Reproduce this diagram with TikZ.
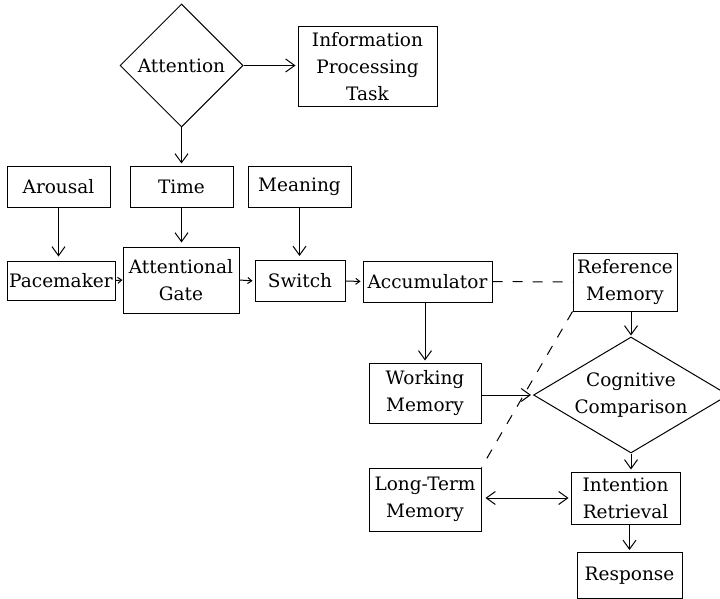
\documentclass[tikz,border=0pt]{standalone}
\usepackage{fontspec}
\setmainfont{DejaVu Serif}
\usetikzlibrary{arrows.meta,shapes.geometric}

\begin{document}
\begin{tikzpicture}[x=1pt,y=-1pt,line width=1pt,
  box/.style={draw,align=center,inner sep=0pt,font=\fontsize{18.5}{27}\selectfont},
  dia/.style={draw,diamond,align=center,inner sep=0pt,font=\fontsize{18.5}{27}\selectfont},
  arr/.style={-{Straight Barb[length=9pt,width=13pt]},shorten >=2pt},
  sarr/.style={-{Straight Barb[length=4pt,width=6pt]}},
  link/.style={dash pattern=on 10pt off 10pt}]
\useasboundingbox (0,0) rectangle (720,599);
% top
\node[dia,minimum width=123,minimum height=123] (att) at (181.5,65.5){Attention};
\node[box,minimum width=139,minimum height=80] (info) at (367.5,67){Information\\Processing\\Task};
% inputs
\node[box,minimum width=103,minimum height=41] (arousal) at (58.5,186.5){Arousal};
\node[box,minimum width=103,minimum height=41] (time) at (181.5,186.5){Time};
\node[box,minimum width=103,minimum height=41] (meaning) at (299.5,186.5){Meaning};
% clock
\node[box,minimum width=108,minimum height=39] (pace) at (61,280.5){Pacemaker};
\node[box,minimum width=116,minimum height=66] (gate) at (181,280){Attentional\\Gate};
\node[box,minimum width=90,minimum height=41] (switch) at (300,281){Switch};
\node[box,minimum width=129,minimum height=41] (acc) at (427.5,281.5){Accumulator};
% memory and decision
\node[box,minimum width=104,minimum height=58] (ref) at (625,282){Reference\\Memory};
\node[box,minimum width=112,minimum height=60] (wm) at (425,393){Working\\Memory};
\node[dia,aspect=1.68,minimum width=195,minimum height=116] (cog) at (631,395){Cognitive\\Comparison};
\node[box,minimum width=112,minimum height=63] (ltm) at (425,499.5){Long-Term\\Memory};
\node[box,minimum width=109,minimum height=52] (ir) at (625.5,498){Intention\\Retrieval};
\node[box,minimum width=105,minimum height=46] (resp) at (629.5,575.5){Response};
% arrows
\draw[arr] (att.east) -- (att.east -| info.west);
\draw[arr] (att.south) -- (att.south |- time.north);
\draw[arr,shorten >=4pt] (arousal.south) -- (arousal.south |- pace.north);
\draw[arr,shorten >=4pt] (time.south) -- (time.south |- gate.north);
\draw[arr,shorten >=4pt] (meaning.south) -- (meaning.south |- switch.north);
\draw[sarr] (pace.east) -- (gate.west);
\draw[sarr,shorten >=2pt] (gate.east) -- (switch.west);
\draw[sarr,shorten >=2pt] (switch.east) -- (acc.west);
\draw[link] (acc.east) -- (ref.west);
\draw[arr] (wm.north |- acc.south) -- (wm.north);
\draw[arr,shorten >=1pt] (cog.north |- ref.south) -- (cog.north);
\draw[arr] (wm.east |- cog.west) -- (cog.west);
\draw[link] (ref.south west) -- (ltm.north east);
\draw[arr] (cog.south) -- (cog.south |- ir.north);
\draw[arr,shorten <=4pt,arrows={Straight Barb[length=9pt,width=13pt]-Straight Barb[length=9pt,width=13pt]}] (ltm.east |- ir.west) -- (ir.west);
\draw[arr] (resp.north |- ir.south) -- (resp.north);
\end{tikzpicture}
\end{document}
